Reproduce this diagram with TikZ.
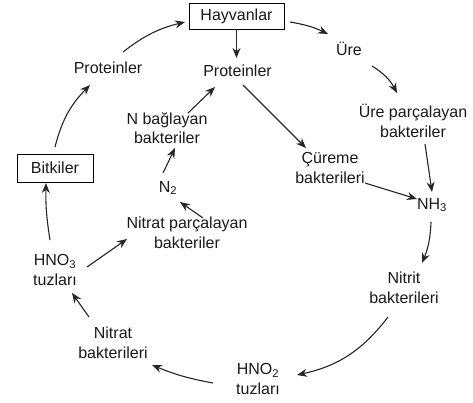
\documentclass[tikz,border=0pt]{standalone}
\usepackage{fontspec}
\setmainfont{Liberation Sans}
\usetikzlibrary{arrows.meta}
\begin{document}
\begin{tikzpicture}[x=1pt,y=-1pt,
  lbl/.style={font=\fontsize{16}{19.5}\selectfont, align=center, inner sep=2pt, text=black!90},
  boxed/.style={lbl, draw, line width=1pt, inner sep=4pt},
  arr/.style={line width=1.1pt, -{Stealth[length=10pt,width=8pt]}, black!85}]
\useasboundingbox (0,0) rectangle (473,402);
\node[boxed, minimum width=95pt, minimum height=26pt] (hay) at (236.5,16) {Hayvanlar};
\node[lbl] (protR) at (237.5,71) {Proteinler};
\node[lbl] (protL) at (108,68) {Proteinler};
\node[lbl] (nbag) at (167,128) {N bağlayan\\bakteriler};
\node[lbl] (ntwo) at (168,188) {N\textsubscript{2}};
\node[boxed, minimum width=76pt, minimum height=28pt] (bit) at (55,168) {Bitkiler};
\node[lbl] (hno3) at (55,270) {HNO\textsubscript{3}\\tuzları};
\node[lbl] (npar) at (187,233) {Nitrat parçalayan\\bakteriler};
\node[lbl] (nbak) at (113,343) {Nitrat\\bakterileri};
\node[lbl] (hno2) at (258,379) {HNO\textsubscript{2}\\tuzları};
\node[lbl] (nitrit) at (404,288) {Nitrit\\bakterileri};
\node[lbl] (nh3) at (432,205) {NH\textsubscript{3}};
\node[lbl] (cur) at (330,168) {Çüreme\\bakterileri};
\node[lbl] (ure) at (349,49) {Üre};
\node[lbl] (urep) at (413,121) {Üre parçalayan\\bakteriler};

\draw[arr] ([shift={(15,-16)}]protL.center) to[bend left=12] ([shift={(-51.5,6)}]hay.center);
\draw[arr] ([shift={(0,13)}]hay.center) -- ([shift={(-1,-13)}]protR.center);
\draw[arr] ([shift={(0,-21)}]bit.center) to[bend left=15] ([shift={(-18,17)}]protL.center);
\draw[arr] ([shift={(-5,-30)}]hno3.center) to[bend left=5] ([shift={(-9,15)}]bit.center);
\draw[arr] ([shift={(21,-15)}]nbag.center) -- ([shift={(-22.5,16)}]protR.center);
\draw[arr] ([shift={(-5,-15)}]ntwo.center) -- ([shift={(8,20)}]nbag.center);
\draw[arr] ([shift={(16,-15)}]npar.center) -- ([shift={(12,14)}]ntwo.center);
\draw[arr] ([shift={(32,-3)}]hno3.center) -- ([shift={(-60,6)}]npar.center);
\draw[arr] ([shift={(-24,-26)}]nbak.center) -- ([shift={(17,23)}]hno3.center);
\draw[arr] ([shift={(-45,4)}]hno2.center) to[bend left=6] ([shift={(39,22)}]nbak.center);
\draw[arr] ([shift={(-16,29)}]nitrit.center) to[bend left=20] ([shift={(39,-4)}]hno2.center);
\draw[arr] ([shift={(-1,17)}]nh3.center) to[bend left=10] ([shift={(18,-25)}]nitrit.center);
\draw[arr] ([shift={(53.5,6)}]hay.center) to[bend left=8] ([shift={(-21,-15)}]ure.center);
\draw[arr] ([shift={(23,17)}]ure.center) to[bend left=15] ([shift={(-16,-28)}]urep.center);
\draw[arr] ([shift={(12,23)}]urep.center) -- ([shift={(0,-13)}]nh3.center);
\draw[arr] ([shift={(5.5,14)}]protR.center) -- ([shift={(-24,-20)}]cur.center);
\draw[arr] ([shift={(35,15)}]cur.center) -- ([shift={(-15,-6)}]nh3.center);
\end{tikzpicture}
\end{document}
